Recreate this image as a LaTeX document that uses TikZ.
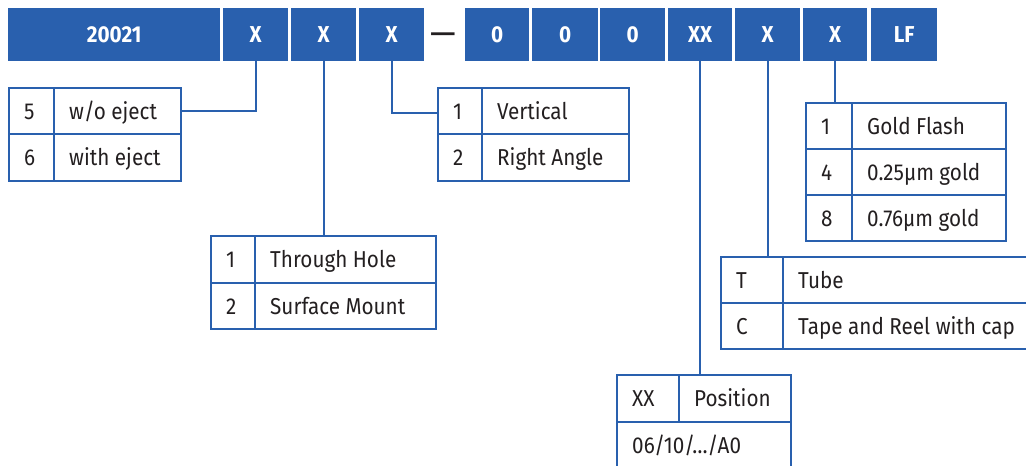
\documentclass[tikz,border=0pt]{standalone}
\usepackage{fontspec}
\setmainfont{Fira Sans}[FakeStretch=0.9]
\definecolor{bl}{HTML}{2960AE}
\definecolor{tx}{HTML}{231F20}
\tikzset{
  codebox/.style={fill=bl, text=white, font=\fontsize{23}{26}\selectfont\bfseries, inner sep=0pt, text height=16pt, text depth=0pt, anchor=north west},
  cellst/.style={draw=bl, line width=2.2pt, inner sep=0pt, anchor=north west},
  lbl/.style={text=tx, font=\fontsize{23}{26}\selectfont, anchor=west, inner sep=0pt, text height=16pt, text depth=0pt},
  conn/.style={draw=bl, line width=2.2pt}
}
\newcommand\cbox[6]{\node[codebox, minimum width={(#4-#2)*1pt}, minimum height={(#5-#3)*1pt}] (#1) at (#2,#3) {#6};}
\newcommand\cellnode[6]{\node[cellst, minimum width={(#4-#2)*1pt}, minimum height={(#5-#3)*1pt}] (#1) at (#2,#3) {};
  \node[lbl] (#1t) at ([xshift=16pt]#1.west) {#6};}
\begin{document}
\begin{tikzpicture}[x=1pt,y=-1pt]
\useasboundingbox (0,0) rectangle (1026,466);
\clip (0,0) rectangle (1026,466);
% top code row
\cbox{b0}{8}{8}{220}{61}{20021}
\cbox{x1}{223}{8}{288}{61}{X}
\cbox{x2}{291}{8}{356}{61}{X}
\cbox{x3}{359}{8}{424}{61}{X}
\node[text=tx, font=\fontsize{36}{36}\selectfont, inner sep=0pt, anchor=base] (dash) at (443,45) {—};
\cbox{z1}{465}{8}{529}{61}{0}
\cbox{z2}{532}{8}{598}{61}{0}
\cbox{z3}{600}{8}{665}{61}{0}
\cbox{xx}{668}{8}{732}{61}{XX}
\cbox{x5}{735}{8}{800}{61}{X}
\cbox{x6}{803}{8}{867}{61}{X}
\cbox{lf}{871}{8}{937}{61}{LF}
% table 1
\cellnode{ta1}{8}{87}{53}{133}{5}
\cellnode{ta2}{53}{87}{180}{133}{w/o eject}
\cellnode{ta3}{8}{133}{53}{180}{6}
\cellnode{ta4}{53}{133}{180}{180}{with eject}
% table 2
\cellnode{tb1}{210}{235}{254}{282}{1}
\cellnode{tb2}{254}{235}{435}{282}{Through Hole}
\cellnode{tb3}{210}{282}{254}{328}{2}
\cellnode{tb4}{254}{282}{435}{328}{Surface Mount}
% table 3
\cellnode{tc1}{437}{87}{481}{133}{1}
\cellnode{tc2}{481}{87}{628}{133}{Vertical}
\cellnode{tc3}{437}{133}{481}{180}{2}
\cellnode{tc4}{481}{133}{628}{180}{Right Angle}
% gold table
\cellnode{td1}{805}{102}{851}{148}{1}
\cellnode{td2}{851}{102}{1005}{148}{Gold Flash}
\cellnode{td3}{805}{148}{851}{194}{4}
\cellnode{td4}{851}{148}{1005}{194}{0.25µm gold}
\cellnode{td5}{805}{194}{851}{240}{8}
\cellnode{td6}{851}{194}{1005}{240}{0.76µm gold}
% tube table
\cellnode{te1}{720}{256}{782}{302}{T}
\cellnode{te2}{782}{256}{1040}{302}{Tube}
\cellnode{te3}{720}{302}{782}{348}{C}
\cellnode{te4}{782}{302}{1040}{348}{Tape and Reel with cap}
% position table
\cellnode{tf1}{616}{374}{678}{421}{XX}
\cellnode{tf2}{678}{374}{790}{421}{Position}
\cellnode{tf3}{616}{421}{790}{468}{06/10/…/A0}
% connectors
\draw[conn] (x1.south) |- (ta2.east);
\draw[conn] (x2.south) -- (x2.south |- tb2.north);
\draw[conn] (x3.south) |- ([yshift=-2pt]tc1.west);
\draw[conn] (xx.south) -- (xx.south |- tf1.north);
\draw[conn] (x5.south) -- (x5.south |- te1.north);
\draw[conn] (x6.south) -- (x6.south |- td1.north);
\end{tikzpicture}
\end{document}
